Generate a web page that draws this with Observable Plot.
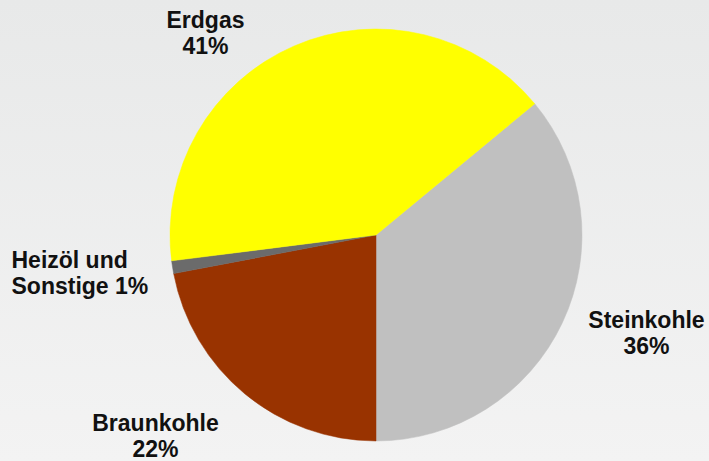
<!DOCTYPE html>
<html><head><meta charset="utf-8">
<script src="https://cdn.jsdelivr.net/npm/d3@7"></script>
<script src="https://cdn.jsdelivr.net/npm/@observablehq/plot@0.6"></script>
<style>
html,body{margin:0;padding:0;}
body{width:709px;height:461px;background:linear-gradient(#e8e9e9,#f3f3f3);overflow:hidden;}
svg{display:block;}
</style></head><body><div id="chart"></div>
<script>
// Data
const categories = ["Steinkohle", "Braunkohle", "Heizöl und Sonstige", "Erdgas"];
const shares = [36, 22, 1, 41];
const colors = ["#c0c0c0", "#993300", "#6b6b6b", "#ffff00"];
const labelLines = [["Steinkohle", "36%"], ["Braunkohle", "22%"], ["Heizöl und", "Sonstige 1%"], ["Erdgas", "41%"]];

// Layout
const W = 709, H = 461;
const center = {x: 376, y: 235}, R = 206;
const startDeg = 50.4;
const labelAnchors = [
  {x: 646, y: 327, anchor: "middle"},
  {x: 155, y: 430, anchor: "middle"},
  {x: 11, y: 267, anchor: "start"},
  {x: 205, y: 27, anchor: "middle"}
];
const lineStep = 26;

const data = categories.map((c, i) => ({category: c, share: shares[i], color: colors[i]}));
const start = startDeg * Math.PI / 180;
const arcs = d3.pie().sort(null).value(d => d.share).startAngle(start).endAngle(start + 2 * Math.PI)(data);

const labels = [];
labelLines.forEach((lines, i) => {
  lines.forEach((t, j) => labels.push({text: t, x: labelAnchors[i].x, y: labelAnchors[i].y + j * lineStep, anchor: labelAnchors[i].anchor}));
});

function pieMark(index, scales) {
  const g = d3.create("svg:g");
  const ox = scales.x(center.x), oy = scales.y(center.y);
  const r = Math.abs(scales.x(center.x + R) - ox);
  const arc = d3.arc().innerRadius(0).outerRadius(r);
  g.attr("transform", `translate(${ox},${oy})`)
    .selectAll("path").data(arcs).join("path")
    .attr("d", arc)
    .attr("fill", d => d.data.color)
    .attr("stroke", d => d.data.color)
    .attr("stroke-width", 0.5);
  return g.node();
}

const textOpts = {
  fontFamily: "'Liberation Sans', Arial, sans-serif",
  fontWeight: "bold",
  fontSize: 23,
  fill: "#111",
  lineAnchor: "bottom"
};

const chart = Plot.plot({
  width: W, height: H,
  margin: 0,
  style: {background: "transparent", overflow: "visible"},
  x: {domain: [0, W], range: [0, W], axis: null},
  y: {domain: [0, H], range: [0, H], axis: null},
  marks: [
    pieMark,
    Plot.text(labels.filter(d => d.anchor === "middle"), {x: "x", y: "y", text: "text", textAnchor: "middle", ...textOpts}),
    Plot.text(labels.filter(d => d.anchor === "start"), {x: "x", y: "y", text: "text", textAnchor: "start", ...textOpts})
  ]
});
document.getElementById("chart").append(chart);
</script>
</body></html>
